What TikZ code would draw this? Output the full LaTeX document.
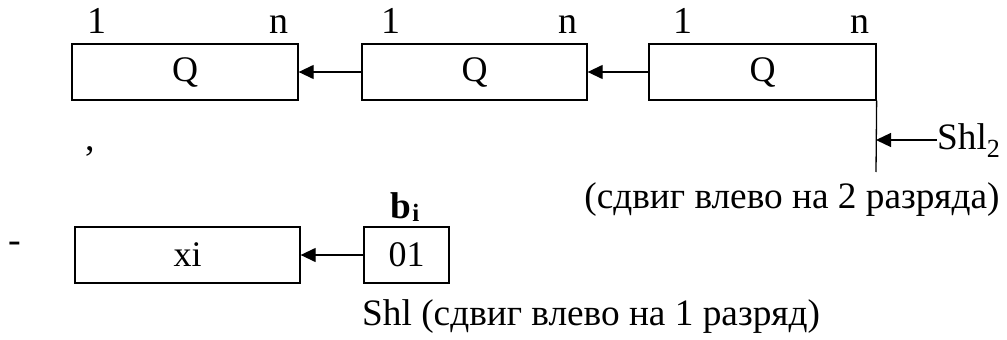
\documentclass[tikz,border=0pt]{standalone}
\usepackage{fontspec}
\setmainfont{Liberation Serif}
\usetikzlibrary{arrows.meta}
\begin{document}
\begin{tikzpicture}[x=1pt,y=-1pt,
  reg/.style={draw,line width=1.3pt,minimum height=56pt,inner sep=0pt,
    font=\fontsize{36}{42}\selectfont},
  idx/.style={inner sep=0pt,anchor=base,font=\fontsize{38}{42}\selectfont},
  caption/.style={inner sep=0pt,font=\fontsize{37.3}{42}\selectfont},
  arr/.style={line width=1.3pt,-{Triangle[length=15pt,width=14pt]}},
  wire/.style={line width=1.3pt}]
\useasboundingbox (0,0) rectangle (1007,340);

% three-stage register Q, shifted left by two positions
\node[reg,minimum width=226pt] (q1) at (185,72) {Q};
\node[reg,minimum width=225pt] (q2) at (474.5,72) {Q};
\node[reg,minimum width=227pt] (q3) at (762.5,72) {Q};

\node[idx] (q1a) at (97,33) {1};
\node[idx] (q1b) at (279,33) {n};
\node[idx] (q2a) at (391,33) {1};
\node[idx] (q2b) at (568,33) {n};
\node[idx] (q3a) at (683,33) {1};
\node[idx] (q3b) at (860,33) {n};

\draw[arr] (q2.west) -- (q1.east);
\draw[arr] (q3.west) -- (q2.east);

% shift control Shl2
\coordinate (sv) at (876,172);
\coordinate (sa) at (876,140);
\draw[wire] (q3.south east) -- (sv);
\node[caption,anchor=base west] (shl2) at (937,149) {Shl\textsubscript{2}};
\draw[arr] (shl2.west |- sa) -- (sa);
\node[caption,anchor=base] (c2) at (792,208) {(сдвиг влево на 2 разряда)};

\node[idx] (comma) at (90,150) {,};
\node[idx] (dash) at (15,252) {-};

% register xi fed from bit pair bi
\node[reg,minimum width=225pt] (xi) at (187.5,255) {xi};
\node[reg,minimum width=85pt] (bb) at (406.5,255) {01};
\node[caption,anchor=base] (bi) at (405,218)
  {\textbf{b\kern1pt\raisebox{-3pt}{\fontsize{25}{28}\selectfont i}}};
\draw[arr] (bb.west) -- (xi.east);
\node[caption,anchor=base west] (c1) at (362,325) {Shl (сдвиг влево на 1 разряд)};
\end{tikzpicture}
\end{document}
